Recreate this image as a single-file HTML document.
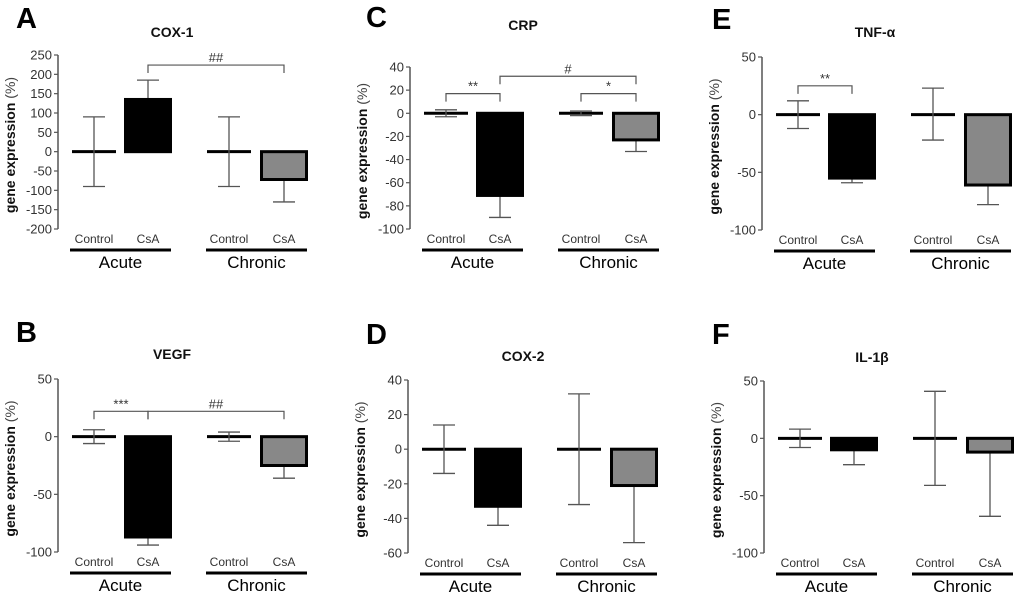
<!DOCTYPE html>
<html><head><meta charset="utf-8"><style>
html,body{margin:0;padding:0;background:#fff;}
svg{display:block;font-family:"Liberation Sans",sans-serif;}
</style></head><body>
<svg id="fig" width="1024" height="602" viewBox="0 0 1024 602"></svg>
<script>
// ---- data ----
const groupLabels = ["Control","CsA","Control","CsA"];
const periodLabels = ["Acute","Chronic"];

const cox1Ticks = [250,200,150,100,50,0,-50,-100,-150,-200];
const cox1Means = [0,135,0,-72];
const cox1Hi = [90,185,90,-72];
const cox1Lo = [-90,135,-90,-130];
const cox1Brackets = [[1,3,224,"##"]];

const crpTicks = [40,20,0,-20,-40,-60,-80,-100];
const crpMeans = [0,-71,0,-23];
const crpHi = [3,-71,2,-23];
const crpLo = [-3,-90,-2,-33];
const crpBrackets = [[0,1,17,"**"],[1,3,32,"#"],[2,3,17,"*"]];

const tnfTicks = [50,0,-50,-100];
const tnfMeans = [0,-55,0,-61];
const tnfHi = [12,-55,23,-61];
const tnfLo = [-12,-59,-22,-78];
const tnfBrackets = [[0,1,25,"**"]];

const vegfTicks = [50,0,-50,-100];
const vegfMeans = [0,-87,0,-25];
const vegfHi = [6,-87,4,-25];
const vegfLo = [-6,-94,-4,-36];
const vegfBrackets = [[0,1,22,"***"],[1,3,22,"##"]];

const cox2Ticks = [40,20,0,-20,-40,-60];
const cox2Means = [0,-33,0,-21];
const cox2Hi = [14,-33,32,-21];
const cox2Lo = [-14,-44,-32,-54];
const cox2Brackets = [];

const il1Ticks = [50,0,-50,-100];
const il1Means = [0,-10,0,-12];
const il1Hi = [8,-10,41,-12];
const il1Lo = [-8,-23,-41,-68];
const il1Brackets = [];

const NS="http://www.w3.org/2000/svg";
const svg=document.getElementById('fig');
function mk(tag,attrs,parent){const e=document.createElementNS(NS,tag);for(const k in attrs)e.setAttribute(k,attrs[k]);(parent||svg).appendChild(e);return e;}

function panel(o){
  const g=mk('g',{});
  
  
  const tmax=o.ticks[0], tmin=o.ticks[o.ticks.length-1];
  const y=v=>o.yTop+(tmax-v)*(o.yBot-o.yTop)/(tmax-tmin);
  const ax=o.ax;
  const L=mk('text',{x:o.lx,y:o.ly,'font-size':29,'font-weight':'bold',fill:'#000'},g);L.textContent=o.letter;
  
  const T=mk('text',{x:o.tx,y:o.ty,'font-size':14,'font-weight':'bold','text-anchor':'middle',fill:'#111'},g);T.textContent=o.title;
  
  const cy=(o.yTop+o.yBot)/2+3;
  const Y=mk('text',{x:0,y:0,'font-size':14,'text-anchor':'middle',fill:'#111',transform:`translate(${ax-43},${cy}) rotate(-90)`},g);
  
  const t1=mk('tspan',{'font-weight':'bold'},Y);t1.textContent='gene expression ';
  const t2=mk('tspan',{fill:'#444'},Y);t2.textContent='(%)';
  const A=mk('line',{x1:ax,y1:y(tmax),x2:ax,y2:y(tmin),stroke:'#555','stroke-width':1.5},g);
  
  o.ticks.forEach(t=>{
    mk('line',{x1:ax-4,y1:y(t),x2:ax,y2:y(t),stroke:'#555','stroke-width':1.2},g);
    const tl=mk('text',{x:ax-6,y:y(t)+4.5,'font-size':13,'text-anchor':'end',fill:'#333'},g);tl.textContent=t;
    
  });
  const centers=[ax+36,ax+90,ax+171,ax+226];
  const halfBar=24;
  o.means.forEach((m,i)=>{
    const cx=centers[i];
    if(i%2===0){
      const ln=mk('line',{x1:cx-22,y1:y(m),x2:cx+22,y2:y(m),stroke:'#000','stroke-width':3},g);
      
      mk('line',{x1:cx,y1:y(o.hi[i]),x2:cx,y2:y(o.lo[i]),stroke:'#555','stroke-width':1.3},g);
      mk('line',{x1:cx-11,y1:y(o.hi[i]),x2:cx+11,y2:y(o.hi[i]),stroke:'#555','stroke-width':1.3},g);
      mk('line',{x1:cx-11,y1:y(o.lo[i]),x2:cx+11,y2:y(o.lo[i]),stroke:'#555','stroke-width':1.3},g);
    } else {
      const end = m>=0 ? o.hi[i] : o.lo[i];
      mk('line',{x1:cx,y1:y(m),x2:cx,y2:y(end),stroke:'#555','stroke-width':1.3},g);
      mk('line',{x1:cx-11,y1:y(end),x2:cx+11,y2:y(end),stroke:'#555','stroke-width':1.3},g);
      const top=Math.min(y(m),y(0)),h=Math.abs(y(m)-y(0));
      const r=mk('rect',{x:cx-halfBar+1.5,y:top,width:2*halfBar-3,height:Math.max(h,1),fill:i===1?'#000':'#888',stroke:'#000','stroke-width':3},g);
      
    }
    const gl=mk('text',{x:cx,y:y(tmin)+14,'font-size':12,'text-anchor':'middle',fill:'#333'},g);gl.textContent=groupLabels[i];
    
  });
  [[ax+12,ax+113],[ax+148,ax+249]].forEach((s,k)=>{
    mk('line',{x1:s[0],y1:y(tmin)+21,x2:s[1],y2:y(tmin)+21,stroke:'#000','stroke-width':3},g);
    const pl=mk('text',{x:(s[0]+s[1])/2,y:y(tmin)+39,'font-size':17,'text-anchor':'middle',fill:'#000'},g);pl.textContent=periodLabels[k];
    
  });
  o.brackets.forEach(b=>{
    const x1=centers[b[0]],x2=centers[b[1]],yy=y(b[2]);
    const p=mk('path',{d:`M${x1},${yy+8}V${yy}H${x2}V${yy+8}`,fill:'none',stroke:'#555','stroke-width':1.2},g);
    
    const st=mk('text',{x:(x1+x2)/2,y:yy-3,'font-size':13,'text-anchor':'middle',fill:'#333'},g);st.textContent=b[3];
    
  });
}

panel({id:'cox1',letter:'A',title:'COX-1',lx:16,ly:28,tx:172,ty:37,ax:58,yTop:55,yBot:229,ticks:cox1Ticks,means:cox1Means,hi:cox1Hi,lo:cox1Lo,brackets:cox1Brackets});
panel({id:'crp',letter:'C',title:'CRP',lx:366,ly:27,tx:523,ty:30,ax:410,yTop:67,yBot:229,ticks:crpTicks,means:crpMeans,hi:crpHi,lo:crpLo,brackets:crpBrackets});
panel({id:'tnf',letter:'E',title:'TNF-α',lx:712,ly:29,tx:875,ty:37,ax:762,yTop:57,yBot:230,ticks:tnfTicks,means:tnfMeans,hi:tnfHi,lo:tnfLo,brackets:tnfBrackets});
panel({id:'vegf',letter:'B',title:'VEGF',lx:16,ly:342,tx:172,ty:359,ax:58,yTop:379,yBot:552,ticks:vegfTicks,means:vegfMeans,hi:vegfHi,lo:vegfLo,brackets:vegfBrackets});
panel({id:'cox2',letter:'D',title:'COX-2',lx:366,ly:344,tx:523,ty:361,ax:408,yTop:380,yBot:553,ticks:cox2Ticks,means:cox2Means,hi:cox2Hi,lo:cox2Lo,brackets:cox2Brackets});
panel({id:'il1',letter:'F',title:'IL-1β',lx:712,ly:344,tx:872,ty:362,ax:764,yTop:381,yBot:553,ticks:il1Ticks,means:il1Means,hi:il1Hi,lo:il1Lo,brackets:il1Brackets});
</script>
</body></html>
